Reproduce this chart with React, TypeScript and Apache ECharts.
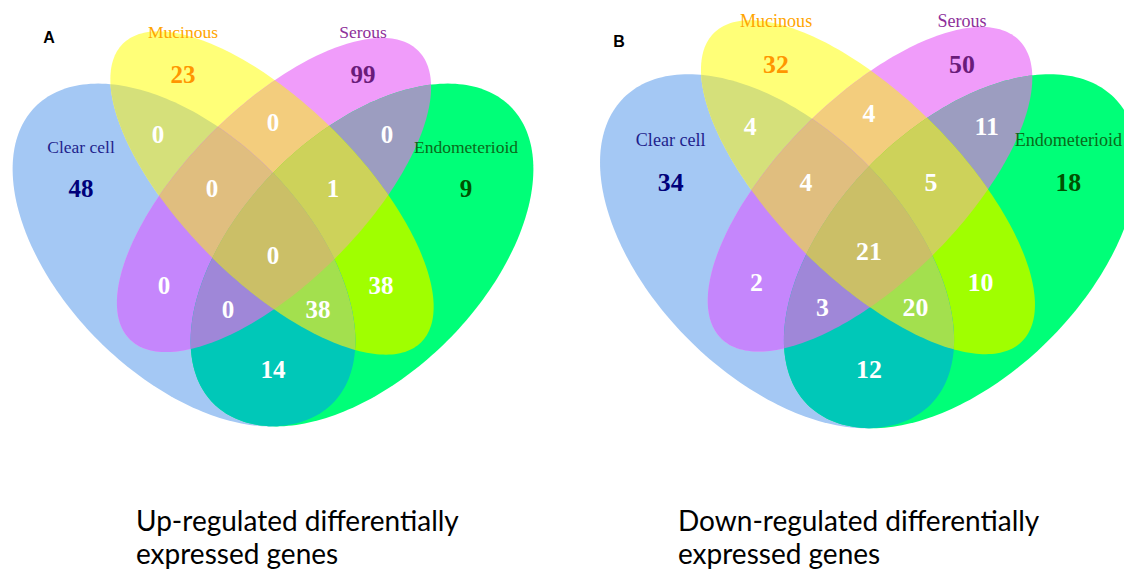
import React, { useEffect, useRef } from "react";
import * as echarts from "echarts";

// ---------- DATA ----------
const setNames = ["Clear cell", "Mucinous", "Serous", "Endometerioid"];
// membership bits in the order of setNames
const regionKeys = [
  "1000", "0100", "0010", "0001",
  "1100", "0110", "0011", "1010", "0101", "1001",
  "1110", "0111", "1011", "1101",
  "1111",
];
const upValues = [48, 23, 99, 9, 0, 0, 0, 0, 38, 14, 0, 1, 0, 38, 0];
const downValues = [34, 32, 50, 18, 4, 4, 11, 2, 10, 12, 4, 5, 3, 20, 21];
const panelLetters = ["A", "B"];
const captionUp = ["Up-regulated differentially", "expressed genes"];
const captionDown = ["Down-regulated differentially", "expressed genes"];

// ---------- LAYOUT / STYLE ----------
const panelValues = [upValues, downValues];
const captions = [captionUp, captionDown];
// ellipse per set in panel-A pixel frame: cx, cy, semi-major, semi-minor, angle(deg)
const ELLIPSES = [
  [184, 255, 210, 121, 45],
  [272, 193, 211, 88, 45],
  [274, 195, 204, 88, 135],
  [362, 255, 210, 121, 135],
];
const PANEL_XFORM = [
  { cx: 273, cy: 369, s: 1 },
  { cx: 869, cy: 369, s: 1.033 },
];
const REGION_POS: Record<string, number[]> = {
  "1000": [81, 188], "0100": [183, 74], "0010": [363, 74], "0001": [466, 188],
  "1100": [158, 134], "0110": [273, 122], "0011": [387, 134], "1010": [164, 285],
  "0101": [381, 285], "1001": [273, 369], "1110": [212, 188], "0111": [333, 188],
  "1011": [228, 309], "1101": [318, 309], "1111": [273, 255],
};
const REGION_FILL: Record<string, string> = {
  "1000": "#A4C8F4", "0100": "#FFFF78", "0010": "#F09CFA", "0001": "#00FF78",
  "1100": "#D5E07A", "0110": "#F3CD7D", "0011": "#9C9DC0", "1010": "#C586FC",
  "0101": "#A0FF00", "1001": "#00C8B8", "1110": "#E0BE7F", "0111": "#CDD25A",
  "1011": "#9F87D8", "1101": "#A3E04E", "1111": "#CBBF67",
};
const SET_LABEL_POS = [[81, 147], [183, 32], [363, 32], [466, 147]];
const SET_LABEL_COLOR = ["#1f1f8c", "#ffa500", "#8e2f9a", "#0a6a1a"];
const SET_NUM_COLOR = ["#00007a", "#ff9600", "#6a1b7a", "#005200"];
const LETTER_POS = [[49, 37], [619, 41]];
const CAPTION_POS = [[136, 520], [678, 520]];
const CAPTION_GAP = 33;

// ---------- GEOMETRY ----------
function tf(p: number, x: number, y: number): number[] {
  const P = PANEL_XFORM[p];
  return [P.cx + P.s * (x - 273), P.cy + P.s * (y - 369)];
}
function ellipsePoly(p: number, e: number[], n = 240): number[][] {
  const [cx, cy, a, b, ang] = e;
  const th = (ang * Math.PI) / 180;
  const c = Math.cos(th), s = Math.sin(th);
  const pts: number[][] = [];
  for (let i = 0; i < n; i++) {
    const t = (2 * Math.PI * i) / n;
    const u = a * Math.cos(t), v = b * Math.sin(t);
    pts.push(tf(p, cx + u * c - v * s, cy + u * s + v * c));
  }
  return pts;
}
function orient(poly: number[][]): number {
  let A = 0;
  for (let i = 0; i < poly.length; i++) {
    const [x1, y1] = poly[i];
    const [x2, y2] = poly[(i + 1) % poly.length];
    A += x1 * y2 - x2 * y1;
  }
  return A >= 0 ? 1 : -1;
}
function clip(subject: number[][], clipPoly: number[][]): number[][] {
  const o = orient(clipPoly);
  let output = subject;
  for (let i = 0; i < clipPoly.length && output.length; i++) {
    const A = clipPoly[i];
    const B = clipPoly[(i + 1) % clipPoly.length];
    const inside = (P: number[]) =>
      o * ((B[0] - A[0]) * (P[1] - A[1]) - (B[1] - A[1]) * (P[0] - A[0])) >= 0;
    const inter = (S: number[], E: number[]) => {
      const dx = E[0] - S[0], dy = E[1] - S[1];
      const ex = B[0] - A[0], ey = B[1] - A[1];
      const den = dx * ey - dy * ex;
      const t = ((A[0] - S[0]) * ey - (A[1] - S[1]) * ex) / den;
      return [S[0] + t * dx, S[1] + t * dy];
    };
    const input = output;
    output = [];
    let S = input[input.length - 1];
    for (const E of input) {
      if (inside(E)) {
        if (!inside(S)) output.push(inter(S, E));
        output.push(E);
      } else if (inside(S)) {
        output.push(inter(S, E));
      }
      S = E;
    }
  }
  return output;
}
const bitCount = (k: string) => k.split("").filter((c) => c === "1").length;
const drawOrder = regionKeys
  .map((k, i) => i)
  .sort((a, b) => bitCount(regionKeys[a]) - bitCount(regionKeys[b]));

const POLYS: number[][][][] = [0, 1].map((p) => {
  const ells = ELLIPSES.map((e) => ellipsePoly(p, e));
  return regionKeys.map((k) => {
    let poly: number[][] | null = null;
    k.split("").forEach((c, j) => {
      if (c !== "1") return;
      poly = poly === null ? ells[j] : clip(poly, ells[j]);
    });
    return poly || [];
  });
});

export default function App() {
  const ref = useRef<HTMLDivElement>(null);
  useEffect(() => {
    if (!ref.current) return;
    const chart = echarts.init(ref.current, null, { renderer: "svg" });

    const shapeData: number[][] = [];
    [0, 1].forEach((p) => drawOrder.forEach((r) => shapeData.push([p, r])));
    const textData: number[][] = [];
    [0, 1].forEach((p) =>
      regionKeys.forEach((k, r) => textData.push([p, r, panelValues[p][r]]))
    );

    const graphics: any[] = [];
    [0, 1].forEach((p) => {
      const s = PANEL_XFORM[p].s;
      setNames.forEach((name, j) => {
        const [x, y] = tf(p, SET_LABEL_POS[j][0], SET_LABEL_POS[j][1]);
        graphics.push({
          type: "text", x, y, z: 10,
          style: {
            text: name, fill: SET_LABEL_COLOR[j],
            fontFamily: '"Liberation Serif", serif', fontSize: 17.5 * s,
            align: "center", verticalAlign: "middle",
            textAlign: "center", textVerticalAlign: "middle",
          },
        });
      });
      graphics.push({
        type: "text", x: LETTER_POS[p][0], y: LETTER_POS[p][1], z: 10,
        style: {
          text: panelLetters[p], fill: "#000",
          fontFamily: '"Liberation Sans", Arial, sans-serif', fontWeight: "bold", fontSize: 16,
          align: "center", verticalAlign: "middle",
          textAlign: "center", textVerticalAlign: "middle",
        },
      });
      captions[p].forEach((line, li) => {
        graphics.push({
          type: "text", x: CAPTION_POS[p][0], y: CAPTION_POS[p][1] + li * CAPTION_GAP, z: 10,
          style: {
            text: line, fill: "#000",
            fontFamily: "Lato, sans-serif", fontSize: 28,
            align: "left", verticalAlign: "middle",
            textAlign: "left", textVerticalAlign: "middle",
          },
        });
      });
    });

    chart.setOption({
      animation: false,
      backgroundColor: "#ffffff",
      grid: { left: 0, right: 0, top: 0, bottom: 0 },
      xAxis: { type: "value", min: 0, max: 1124, show: false },
      yAxis: { type: "value", min: 0, max: 572, inverse: true, show: false },
      graphic: graphics,
      series: [
        {
          type: "custom",
          coordinateSystem: "cartesian2d",
          silent: true,
          data: shapeData,
          renderItem: (params: any, api: any) => {
            const p = api.value(0), r = api.value(1);
            const pts = POLYS[p][r].map((pt) => api.coord(pt));
            return {
              type: "polygon",
              shape: { points: pts },
              style: { fill: REGION_FILL[regionKeys[r]], stroke: null },
            };
          },
        },
        {
          type: "custom",
          coordinateSystem: "cartesian2d",
          silent: true,
          z: 5,
          data: textData,
          renderItem: (params: any, api: any) => {
            const p = api.value(0), r = api.value(1), v = api.value(2);
            const key = regionKeys[r];
            const pos = REGION_POS[key];
            const [x, y] = api.coord(tf(p, pos[0], pos[1]));
            const single = bitCount(key) === 1 ? key.indexOf("1") : -1;
            return {
              type: "text",
              x, y,
              style: {
                text: String(v),
                fill: single >= 0 ? SET_NUM_COLOR[single] : "#ffffff",
                fontFamily: '"Liberation Serif", serif',
                fontWeight: "bold",
                fontSize: 25 * PANEL_XFORM[p].s,
                align: "center", verticalAlign: "middle",
                textAlign: "center", textVerticalAlign: "middle",
              },
            };
          },
        },
      ],
    });
    return () => chart.dispose();
  }, []);
  return (
    <div
      ref={ref}
      style={{ position: "absolute", left: 0, top: 0, width: 1124, height: 572 }}
    />
  );
}
